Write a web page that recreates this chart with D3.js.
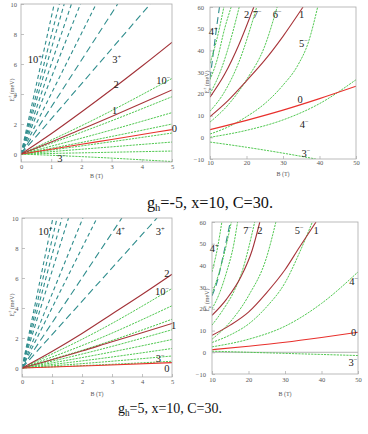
<!DOCTYPE html>
<html>
<head>
<meta charset="utf-8">
<script src="https://cdn.jsdelivr.net/npm/d3@7"></script>
<style>
  html, body { margin: 0; padding: 0; background: #fff; }
  svg { display: block; font-family: "Liberation Serif", "DejaVu Serif", serif; }
  .tick text { font-family: "Liberation Serif", "DejaVu Serif", serif; }
</style>
</head>
<body>
<svg id="chart" width="368" height="434"></svg>
<script>
// ── Landau-level fans, two hole g-factors, low field (0–5 T) and high field (10–50 T) ──

// tick values
const lowB  = [0, 1, 2, 3, 4, 5];
const lowE  = [0, 2, 4, 6, 8, 10];
const highB = [10, 20, 30, 40, 50];
const highE = [-10, 0, 10, 20, 30, 40, 50, 60];

// ── gh = -5, low field ──
// "+" levels (3+ … 10+), dashed teal, [B, E] points
const tlPlus = [
  [[0, 0], [4.28, 10]],
  [[0, 0], [3.2, 10]],
  [[0, 0], [2.49, 10]],
  [[0, 0], [1.97, 10]],
  [[0, 0], [1.67, 10]],
  [[0, 0], [1.43, 10]],
  [[0, 0], [1.27, 10]],
  [[0, 0], [1.1, 10]],
];
// "−" levels (3− … 10−), dotted green
const tlMinus = [
  [[0, 0], [2.5, -0.22], [5, -0.5]],
  [[0, 0], [2.5, 0.1], [5, 0.2]],
  [[0, 0], [2.5, 0.4], [5, 0.8]],
  [[0, 0], [2.5, 0.68], [5, 1.4]],
  [[0, 0], [2.5, 0.97], [5, 2.0]],
  [[0, 0], [2.5, 1.33], [5, 2.76]],
  [[0, 0], [2.5, 1.83], [5, 3.82]],
  [[0, 0], [2.5, 2.38], [5, 5.04]],
];
// n = 0, 1, 2 solid
const tlLevels = [
  [[0, 0], [1, 0.32], [2, 0.65], [3, 0.97], [4, 1.3], [5, 1.63]],
  [[0, 0], [1, 0.8], [2, 1.65], [3, 2.5], [4, 3.38], [5, 4.27]],
  [[0, 0], [1, 1.35], [2, 2.8], [3, 4.3], [4, 5.85], [5, 7.45]],
];
const tlLabels = [
  { t: '10', s: '+', B: 0.46, E: 6.07 },
  { t: '3',  s: '+', B: 3.17, E: 6.07 },
  { t: '2',  s: '',  B: 3.15, E: 4.4 },
  { t: '10', s: '−', B: 4.71, E: 4.65 },
  { t: '1',  s: '',  B: 3.1,  E: 2.67 },
  { t: '0',  s: '',  B: 5.08, E: 1.45 },
  { t: '3',  s: '−', B: 1.35, E: -0.5 },
];

// ── gh = -5, high field ──
const trPlus = [
  [[10, 27], [11, 40], [12, 53], [12.6, 60]],
];
const trMinus = [
  [[10, -2.2], [20, -4.6], [30, -7.3], [39, -10]],
  [[10, 0], [20, 3.2], [30, 8], [40, 15.5], [50, 26.5]],
  [[10, 1.5], [15, 4.8], [20, 9.5], [25, 15.5], [30, 24], [34, 33], [37, 44], [39.5, 60]],
  [[10, 7], [15, 15], [20, 26.5], [25, 42], [28.4, 60]],
  [[10, 12], [14, 21], [18, 35], [22.8, 60]],
  [[10, 20], [13, 31], [16, 47], [18, 60]],
  [[10, 26.5], [12, 36], [14, 50], [15.8, 60]],
  [[10, 34], [12, 46], [13.8, 60]],
];
const trLevels = [
  [[10, 3.5], [20, 7.8], [30, 12.5], [40, 17.8], [50, 23.5]],
  [[10, 9.5], [15, 17], [20, 26], [25, 35.5], [30, 46.5], [35.5, 60]],
  [[10, 18.5], [14, 29], [18, 43], [22, 60]],
];
const trLabels = [
  { t: '2', s: '',  B: 20.05, E: 54.8 },
  { t: '7', s: '−', B: 22.96, E: 54.8 },
  { t: '6', s: '−', B: 28.4,  E: 54.8 },
  { t: '1', s: '',  B: 35.1,  E: 54.8 },
  { t: '4', s: '+', B: 10.9,  E: 47.1 },
  { t: '5', s: '−', B: 35.6,  E: 41.7 },
  { t: '0', s: '',  B: 34.7,  E: 15.7 },
  { t: '4', s: '−', B: 35.8,  E: 4.3 },
  { t: '3', s: '−', B: 36.3,  E: -9.3 },
];

// ── gh = 5, low field ──
const blPlus = [
  [[0, 0], [4.5, 10]],
  [[0, 0], [3.33, 10]],
  [[0, 0], [2.5, 10]],
  [[0, 0], [2.03, 10]],
  [[0, 0], [1.55, 10]],
  [[0, 0], [1.33, 10]],
  [[0, 0], [1.17, 10]],
  [[0, 0], [1.03, 10]],
];
const blMinus = [
  [[0, 0], [2.5, 0.2], [5, 0.45]],
  [[0, 0], [2.5, 0.37], [5, 0.8]],
  [[0, 0], [2.5, 0.6], [5, 1.3]],
  [[0, 0], [2.5, 0.88], [5, 1.9]],
  [[0, 0], [2.5, 1.18], [5, 2.55]],
  [[0, 0], [2.5, 1.5], [5, 3.25]],
  [[0, 0], [2.5, 1.9], [5, 4.15]],
  [[0, 0], [2.5, 2.43], [5, 5.3]],
];
const blLevels = [
  [[0, 0], [2.5, 0.17], [5, 0.36]],
  [[0, 0], [1, 0.55], [2, 1.13], [3, 1.75], [4, 2.35], [5, 2.97]],
  [[0, 0], [1, 1.1], [2, 2.3], [3, 3.6], [4, 4.9], [5, 6.25]],
];
const blLabels = [
  { t: '10', s: '+', B: 0.78, E: 8.88 },
  { t: '4',  s: '+', B: 3.28, E: 8.88 },
  { t: '3',  s: '+', B: 4.61, E: 8.88 },
  { t: '2',  s: '',  B: 4.83, E: 6.07 },
  { t: '10', s: '−', B: 4.67, E: 4.87 },
  { t: '1',  s: '',  B: 5.05, E: 2.62 },
  { t: '3',  s: '−', B: 4.61, E: 0.41 },
  { t: '0',  s: '',  B: 4.83, E: -0.25 },
];

// ── gh = 5, high field ──
const brPlus = [
  [[10, 26], [11.5, 33], [13, 44], [15, 60]],
];
const brMinus = [
  [[10, 0.5], [20, 0], [30, -0.5], [40, -1], [50, -1.5]],
  [[10, 2.5], [20, 6], [30, 12], [40, 22.5], [50, 37]],
  [[10, 4.5], [15, 8], [20, 13], [25, 21], [30, 32], [34, 46], [37.5, 60]],
  [[10, 6], [15, 14], [20, 26], [25, 44], [27.5, 60]],
  [[10, 12.5], [13, 19.5], [16, 28], [18, 36], [21.7, 60]],
  [[10, 20], [12, 27], [14, 37], [16, 50], [17, 60]],
  [[10, 27], [12, 37], [14, 50], [15.3, 60]],
  [[10, 37], [11.5, 48], [12.7, 60]],
];
const brLevels = [
  [[10, 1.2], [20, 2.8], [30, 4.6], [40, 6.8], [50, 9.2]],
  [[10, 7.8], [15, 12.5], [20, 18.5], [25, 27.5], [30, 38], [34, 48.5], [38.5, 60]],
  [[10, 17], [14, 24.5], [18, 35], [21, 47], [23.1, 60]],
];
const brLabels = [
  { t: '4', s: '+', B: 10.6, E: 46.2 },
  { t: '7', s: '−', B: 19.75, E: 54.6 },
  { t: '2', s: '',  B: 23.1, E: 54.6 },
  { t: '5', s: '−', B: 33.9, E: 54.6 },
  { t: '1', s: '',  B: 38.5, E: 54.6 },
  { t: '4', s: '−', B: 48.8, E: 31.1 },
  { t: '0', s: '',  B: 48.8, E: 7.4 },
  { t: '3', s: '−', B: 48.6, E: -6.2 },
];

const captions = ['=-5, x=10, C=30.', '=5, x=10, C=30.'];

// ── colours ──
const TEAL  = '#2f8d8d';
const GREEN = '#52c952';
const LEVEL_COLORS = ['#e8302c', '#a8353a', '#a23238'];

const svg = d3.select('#chart');

const panels = [
  { box: [21, 4, 172, 162],   xDom: [0, 5],   yDom: [-0.53, 10], xt: lowB,  yt: lowE,
    plus: tlPlus, minus: tlMinus, levels: tlLevels, labels: tlLabels,
    yTickX: 4, yLab: [14, 90], xLabY: 178, xPad: 2.5, zero: false },
  { box: [210, 7, 356, 159],  xDom: [10, 50], yDom: [-10, 60],   xt: highB, yt: highE,
    plus: trPlus, minus: trMinus, levels: trLevels, labels: trLabels,
    yTickX: 6, yLab: [209, 82], xLabY: 176, xPad: 1.5, zero: false },
  { box: [22, 218, 172, 377], xDom: [0, 5],   yDom: [-0.6, 10],  xt: lowB,  yt: lowE,
    plus: blPlus, minus: blMinus, levels: blLevels, labels: blLabels,
    yTickX: 3.5, yLab: [14, 305], xLabY: 396, xPad: 2, zero: false },
  { box: [212, 222, 358, 374], xDom: [10, 50], yDom: [-10, 60],  xt: highB, yt: highE,
    plus: brPlus, minus: brMinus, levels: brLevels, labels: brLabels,
    yTickX: 6, yLab: [209, 300], xLabY: 396, xPad: 3, zero: true },
];

panels.forEach((p, i) => drawPanel(p, i));

function drawPanel(p, i) {
  const [x0, y0, x1, y1] = p.box;
  const x = d3.scaleLinear().domain(p.xDom).range([x0, x1]);
  const y = d3.scaleLinear().domain(p.yDom).range([y1, y0]);
  const g = svg.append('g');

  const clipId = 'clip' + i;
  svg.append('clipPath').attr('id', clipId)
    .append('rect').attr('x', x0).attr('y', y0).attr('width', x1 - x0).attr('height', y1 - y0);

  const fmt = d => d < 0 ? '−' + Math.abs(d) : String(d);

  // axes (ticks point inward, frame drawn separately)
  const xAxis = g.append('g').attr('transform', `translate(0,${y1})`)
    .call(d3.axisBottom(x).tickValues(p.xt).tickFormat(fmt)
      .tickSizeInner(-3).tickSizeOuter(0).tickPadding(p.xPad));
  const yAxis = g.append('g').attr('transform', `translate(${x0},0)`)
    .call(d3.axisLeft(y).tickValues(p.yt).tickFormat(fmt)
      .tickSizeInner(-3).tickSizeOuter(0).tickPadding(p.yTickX));
  [xAxis, yAxis].forEach(a => {
    a.attr('font-family', null).attr('font-size', null);
    a.select('.domain').remove();
    a.selectAll('line').attr('stroke', '#999').attr('stroke-width', 0.6);
    a.selectAll('text').attr('fill', '#555').style('font-size', '6.5px');
  });

  const plot = g.append('g').attr('clip-path', `url(#${clipId})`);

  if (p.zero) {
    plot.append('line')
      .attr('x1', x0).attr('x2', x1).attr('y1', y(0)).attr('y2', y(0))
      .attr('stroke', '#aaa').attr('stroke-width', 0.9);
  }

  const line = d3.line().x(d => x(d[0])).y(d => y(d[1])).curve(d3.curveMonotoneX);

  // dashed "+" fan
  plot.selectAll('path.plus').data(p.plus).join('path')
    .attr('class', 'plus')
    .attr('d', line)
    .attr('fill', 'none')
    .attr('stroke', TEAL)
    .attr('stroke-width', 1.1)
    .attr('stroke-dasharray', (d, k) => k < 2 ? '7,4' : '4,3');

  // dotted "−" fan
  plot.selectAll('path.minus').data(p.minus).join('path')
    .attr('class', 'minus')
    .attr('d', line)
    .attr('fill', 'none')
    .attr('stroke', GREEN)
    .attr('stroke-width', 1)
    .attr('stroke-dasharray', '2.2,1');

  // n = 0, 1, 2
  plot.selectAll('path.level').data(p.levels).join('path')
    .attr('class', 'level')
    .attr('d', line)
    .attr('fill', 'none')
    .attr('stroke', (d, k) => LEVEL_COLORS[k])
    .attr('stroke-width', 1.1);

  // frame
  g.append('rect')
    .attr('x', x0).attr('y', y0).attr('width', x1 - x0).attr('height', y1 - y0)
    .attr('fill', 'none').attr('stroke', '#aaa').attr('stroke-width', 0.8);

  // curve labels
  const lab = g.selectAll('text.lab').data(p.labels).join('text')
    .attr('class', 'lab')
    .attr('x', d => x(d.B))
    .attr('y', d => y(d.E))
    .attr('text-anchor', 'middle')
    .attr('font-size', '10.5px')
    .attr('fill', '#222')
    .text(d => d.t);
  lab.filter(d => d.s).append('tspan')
    .attr('dy', -4)
    .attr('font-size', '6.5px')
    .text(d => d.s);

  // axis titles
  g.append('text')
    .attr('x', (x0 + x1) / 2).attr('y', p.xLabY)
    .attr('text-anchor', 'middle').attr('font-size', '6px').attr('fill', '#555')
    .text('B (T)');

  const yl = g.append('text')
    .attr('transform', `translate(${p.yLab[0]},${p.yLab[1]}) rotate(-90)`)
    .attr('text-anchor', 'middle').attr('font-size', '6px').attr('fill', '#555');
  yl.append('tspan').text('E');
  yl.append('tspan').attr('font-size', '4px').attr('dy', 1.5).text('n');
  yl.append('tspan').attr('font-size', '4px').attr('dx', -2).attr('dy', -4.5).text('±');
  yl.append('tspan').attr('dy', 3).text(' (meV)');
}

// captions
function caption(txt, cx, by, width, fs) {
  const t = svg.append('text')
    .attr('x', cx).attr('y', by)
    .attr('text-anchor', 'middle')
    .attr('font-size', fs + 'px')
    .attr('fill', '#111')
    .attr('textLength', width)
    .attr('lengthAdjust', 'spacingAndGlyphs');
  t.append('tspan').text('g');
  t.append('tspan').attr('font-size', (fs * 0.65) + 'px').attr('dy', 3).text('h');
  t.append('tspan').attr('dy', -3).text(txt);
}
caption(captions[0], 210, 208, 126, 16);
caption(captions[1], 170, 413, 104, 15);
</script>
</body>
</html>
